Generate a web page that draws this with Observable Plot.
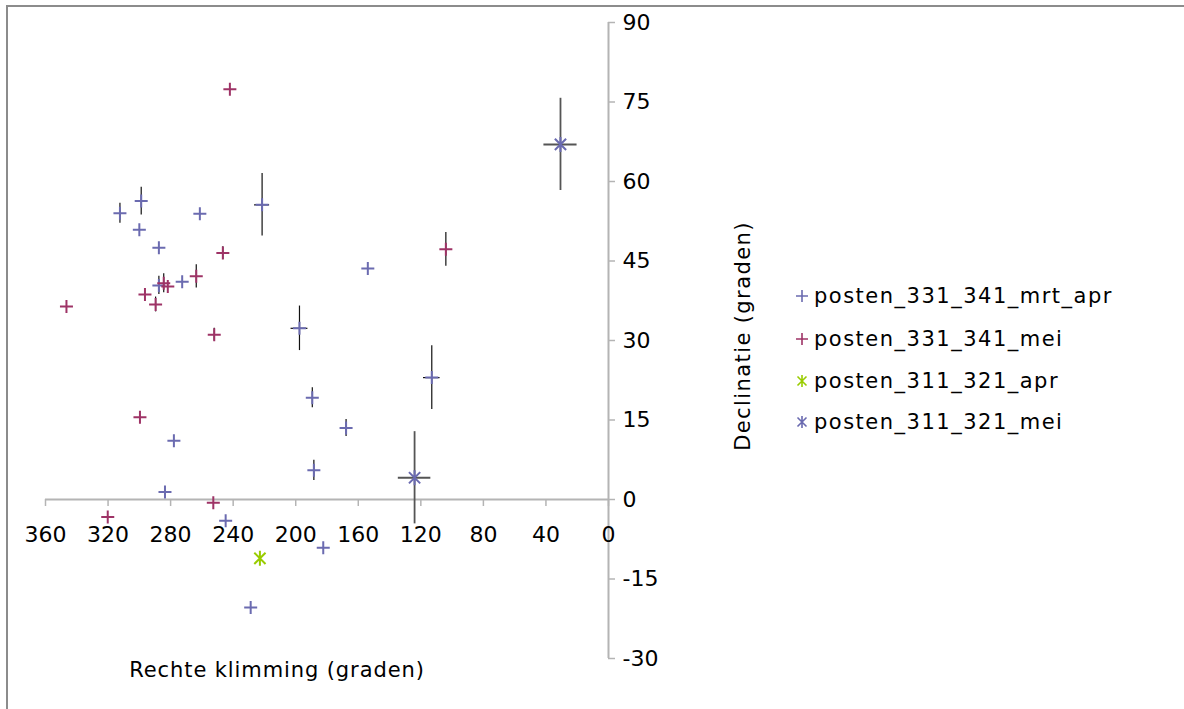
<!DOCTYPE html>
<html>
<head>
<meta charset="utf-8">
<script src="https://cdn.jsdelivr.net/npm/d3@7"></script>
<script src="https://cdn.jsdelivr.net/npm/@observablehq/plot@0.6"></script>
<style>
  html, body { margin: 0; padding: 0; background: #fff; overflow: hidden; }
  #wrap { position: relative; width: 1184px; height: 709px; font-family: "DejaVu Sans", Verdana, sans-serif; }
  #border { position: absolute; left: 6px; top: 5px; width: 1200px; height: 720px; border-top: 2px solid #8c8c8c; border-left: 2px solid #8c8c8c; box-sizing: border-box; }
  #chart { position: absolute; left: 0; top: 0; }
  .title { position: absolute; font-size: 21px; color: #000; white-space: nowrap; }
  #xtitle { left: 277px; top: 670px; transform: translate(-50%, -50%); letter-spacing: 0.9px; }
  #ytitle { left: 743px; top: 336px; transform: translate(-50%, -50%) rotate(-90deg); letter-spacing: 1.4px; }
  #legend { position: absolute; left: 794px; top: 0; }
  .row { position: absolute; left: 0; height: 24px; display: flex; align-items: center; white-space: nowrap; font-size: 21px; letter-spacing: 1.5px; }
  .row svg { margin-right: 4px; }
</style>
</head>
<body>
<div id="wrap">
  <div id="border"></div>
  <div id="chart"></div>
  <div id="xtitle" class="title">Rechte klimming (graden)</div>
  <div id="ytitle" class="title">Declinatie (graden)</div>
  <div id="legend"></div>
</div>
<script>
// ---- data ----
const seriesNames = ["posten_331_341_mrt_apr", "posten_331_341_mei", "posten_311_321_apr", "posten_311_321_mei"];
const seriesColors = ["#6b6bb0", "#9e3366", "#99cc00", "#6a6ab0"];

const mrtAprRA  = [312.4, 298.8, 300.0, 287.5, 261.3, 221.5, 287.5, 272.6, 197.6, 153.9, 189.4, 167.8, 113.0, 188.4, 277.9, 283.6, 244.8, 182.4, 228.8];
const mrtAprDec = [54.0, 56.3, 50.9, 47.5, 53.9, 55.6, 40.4, 41.1, 32.3, 43.6, 19.2, 13.5, 23.0, 5.5, 11.1, 1.4, -4.0, -9.1, -20.4];
const mrtAprErrDec = [1.9, 2.6, 0, 0, 0, 5.9, 1.7, 0, 4.2, 0, 1.9, 1.6, 6.0, 1.9, 0, 0, 0, 0, 0];
const mrtAprErrRA  = [0, 0, 0, 0, 0, 4.8, 0, 0, 5.4, 0, 0, 0, 5.3, 0, 0, 0, 0, 0, 0];

const meiRA  = [242.1, 346.6, 296.4, 289.6, 284.4, 281.8, 263.6, 246.6, 252.1, 104.0, 299.6, 252.7, 320.2];
const meiDec = [77.4, 36.4, 38.7, 36.8, 40.8, 40.2, 42.1, 46.5, 31.1, 47.2, 15.5, -0.6, -3.3];
const meiErrDec = [0, 0, 0, 1.4, 1.8, 0, 2.2, 1.2, 1.2, 3.2, 0, 0, 0];
const meiErrRA  = [0, 0, 0, 0, 0, 0, 0, 0, 0, 0, 0, 0, 0];

const apr311RA  = [222.9];
const apr311Dec = [-11.1];
const apr311ErrDec = [0];
const apr311ErrRA  = [0];

const mei311RA  = [30.7, 124.0];
const mei311Dec = [67.0, 4.1];
const mei311ErrDec = [8.7, 8.7];
const mei311ErrRA  = [10.6, 10.4];

const xTicks = [360, 320, 280, 240, 200, 160, 120, 80, 40, 0];
const yTicks = [-30, -15, 0, 15, 30, 45, 60, 75, 90];

// ---- build table ----
function build(s, ra, dec, eDec, eRa) {
  return ra.map((r, i) => ({series: s, ra: r, dec: dec[i], eDec: eDec[i], eRa: eRa[i]}));
}
const pts = [
  ...build(0, mrtAprRA, mrtAprDec, mrtAprErrDec, mrtAprErrRA),
  ...build(1, meiRA, meiDec, meiErrDec, meiErrRA),
  ...build(2, apr311RA, apr311Dec, apr311ErrDec, apr311ErrRA),
  ...build(3, mei311RA, mei311Dec, mei311ErrDec, mei311ErrRA)
];
const vErr = pts.filter(d => d.eDec > 0);
const hErr = pts.filter(d => d.eRa > 0);

// ---- symbols (Excel-like) ----
const plusSym = {
  draw(ctx, size) {
    const r = Math.sqrt(size / Math.PI);
    ctx.moveTo(-r, 0); ctx.lineTo(r, 0);
    ctx.moveTo(0, -r); ctx.lineTo(0, r);
  }
};
const starSym = {
  draw(ctx, size) {
    const r = Math.sqrt(size / Math.PI);
    const k = r * 0.75;
    ctx.moveTo(-k, -k); ctx.lineTo(k, k);
    ctx.moveTo(-k, k); ctx.lineTo(k, -k);
    ctx.moveTo(0, -r); ctx.lineTo(0, r);
  }
};
const seriesSym = [plusSym, plusSym, starSym, starSym];

const axisColor = "#b4b4b4";
const fontFam = "'DejaVu Sans', Verdana, sans-serif";

const marks = [
  // axes lines
  Plot.ruleX([0], {x: d => d, y1: -30, y2: 90, stroke: axisColor, strokeWidth: 2}),
  Plot.ruleY([0], {y: d => d, x1: 360, x2: 0, stroke: axisColor, strokeWidth: 2}),
  // ticks
  Plot.ruleX(xTicks, {x: d => d, y1: 0, y2: 0, insetBottom: -7, stroke: axisColor, strokeWidth: 1.5}),
  Plot.ruleY(yTicks, {y: d => d, x1: 0, x2: 0, insetRight: -7, stroke: axisColor, strokeWidth: 1.5}),
  // tick labels
  Plot.text(xTicks, {x: d => d, y: 0, text: d => String(d), dy: 35, fontSize: 22, fill: "#000", letterSpacing: "1px"}),
  Plot.text(yTicks, {x: 0, y: d => d, text: d => String(d), dx: 14, textAnchor: "start", fontSize: 22, fill: "#000", letterSpacing: "1px"}),
  // error bars
  Plot.ruleX(vErr, {x: "ra", y1: d => d.dec - d.eDec, y2: d => d.dec + d.eDec, stroke: d => d.series === 3 ? "#555" : "#111", strokeWidth: d => d.series === 3 ? 1.8 : 1.2}),
  Plot.ruleY(hErr, {y: "dec", x1: d => d.ra - d.eRa, x2: d => d.ra + d.eRa, stroke: d => d.series === 3 ? "#555" : "#111", strokeWidth: d => d.series === 3 ? 2 : 1.2}),
];
for (let s = 0; s < 4; s++) {
  marks.push(Plot.dot(pts.filter(d => d.series === s), {
    x: "ra", y: "dec", r: s >= 2 ? 7.5 : 6.5, symbol: seriesSym[s], fill: "none",
    stroke: seriesColors[s], strokeWidth: 2
  }));
}

const chart = Plot.plot({
  width: 1184,
  height: 709,
  marginLeft: 45,
  marginRight: 576,
  marginTop: 22,
  marginBottom: 51,
  x: {domain: [360, 0], axis: null},
  y: {domain: [-30, 90], axis: null},
  style: {fontFamily: fontFam, background: "transparent", overflow: "visible"},
  marks
});
document.getElementById("chart").appendChild(chart);

// ---- legend ----
const legend = document.getElementById("legend");
const rowY = [296, 339, 381, 422];
seriesNames.forEach((name, i) => {
  const row = document.createElement("div");
  row.className = "row";
  row.style.top = (rowY[i] - 12) + "px";
  const svg = d3.create("svg").attr("width", 16).attr("height", 16);
  const path = d3.path();
  seriesSym[i].draw(path, Math.PI * 36);
  svg.append("path").attr("transform", "translate(8,8)").attr("d", path.toString())
    .attr("fill", "none").attr("stroke", seriesColors[i]).attr("stroke-width", 1.6);
  row.appendChild(svg.node());
  const span = document.createElement("span");
  span.textContent = name;
  row.appendChild(span);
  legend.appendChild(row);
});
</script>
</body>
</html>
